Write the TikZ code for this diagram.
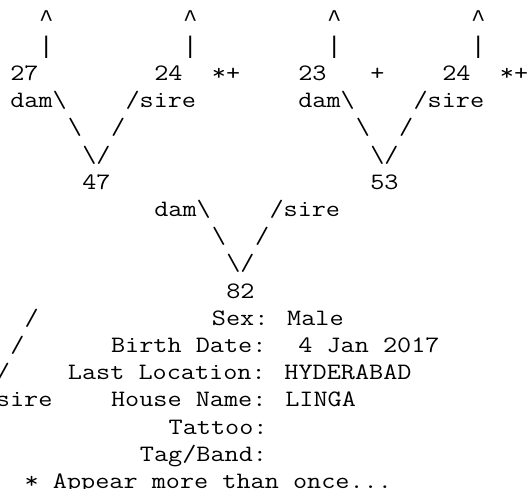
\documentclass[tikz,border=0pt]{standalone}
\usepackage{fontspec}
\newfontfamily\libmono{Liberation Mono}
\newcommand\ped[4]{\node[ptxt] (#1) at ({-4.1+14.4*#2},{488.5-(17-#3)*27.2}) {\scalebox{1.167}[1]{#4}};}
\newcommand\pmk[4]{\node[pmark] (#1) at ({-4.1+14.4*#2},{488.5-(17-#3)*27.2}) {#4};}
\begin{document}
\begin{tikzpicture}[x=1pt,y=-1pt,
  ptxt/.style={anchor=base west, inner sep=0pt, outer sep=0pt,
    font=\ttfamily\fontsize{23.5}{27}\selectfont, text=black},
  pmark/.style={anchor=base west, inner sep=0pt, outer sep=0pt,
    font=\libmono\fontsize{24}{27}\selectfont, text=black}]
\useasboundingbox (0,0) rectangle (529,488);
\fill[white] (0,0) rectangle (529,488);
\clip (0,0) rectangle (529,488);
% row 0
\pmk{upA}{3}{0}{\textasciicircum}
\pmk{upB}{13}{0}{\textasciicircum}
\pmk{upC}{23}{0}{\textasciicircum}
\pmk{upD}{33}{0}{\textasciicircum}
% row 1
\pmk{barA}{3}{1}{\textbar}
\pmk{barB}{13}{1}{\textbar}
\pmk{barC}{23}{1}{\textbar}
\pmk{barD}{33}{1}{\textbar}
% row 2
\ped{gA}{1}{2}{27}
\ped{gB}{11}{2}{24}
\ped{mB}{15}{2}{*+}
\ped{gC}{21}{2}{23}
\ped{mC}{26}{2}{+}
\ped{gD}{31}{2}{24}
\ped{mD}{35}{2}{*+}
% row 3
\ped{damA}{1}{3}{dam\textbackslash}
\ped{sireA}{9}{3}{/sire}
\ped{damB}{21}{3}{dam\textbackslash}
\ped{sireB}{29}{3}{/sire}
% row 4
\ped{dlA}{5}{4}{\textbackslash}
\ped{slA}{8}{4}{/}
\ped{dlB}{25}{4}{\textbackslash}
\ped{slB}{28}{4}{/}
% row 5
\ped{vA}{6}{5}{\textbackslash/}
\ped{vB}{26}{5}{\textbackslash/}
% row 6
\ped{p47}{6}{6}{47}
\ped{p53}{26}{6}{53}
% row 7
\ped{damC}{11}{7}{dam\textbackslash}
\ped{sireC}{19}{7}{/sire}
% row 8
\ped{dlC}{15}{8}{\textbackslash}
\ped{slC}{18}{8}{/}
% row 9
\ped{vC}{16}{9}{\textbackslash/}
% row 10
\ped{p82}{16}{10}{82}
% row 11
\ped{slD}{2}{11}{/}
\ped{sex}{15}{11}{Sex: Male}
% row 12
\ped{slE}{1}{12}{/}
\ped{birth}{8}{12}{Birth Date:}
\ped{bdate}{21}{12}{4 Jan 2017}
% row 13
\ped{slF}{0}{13}{/}
\ped{loc}{5}{13}{Last Location: HYDERABAD}
% row 14
\ped{sireD}{0}{14}{sire}
\ped{house}{8}{14}{House Name: LINGA}
% row 15
\ped{tattoo}{12}{15}{Tattoo:}
% row 16
\ped{tag}{10}{16}{Tag/Band:}
% row 17
\ped{note}{2}{17}{* Appear more than once...}
\end{tikzpicture}
\end{document}
